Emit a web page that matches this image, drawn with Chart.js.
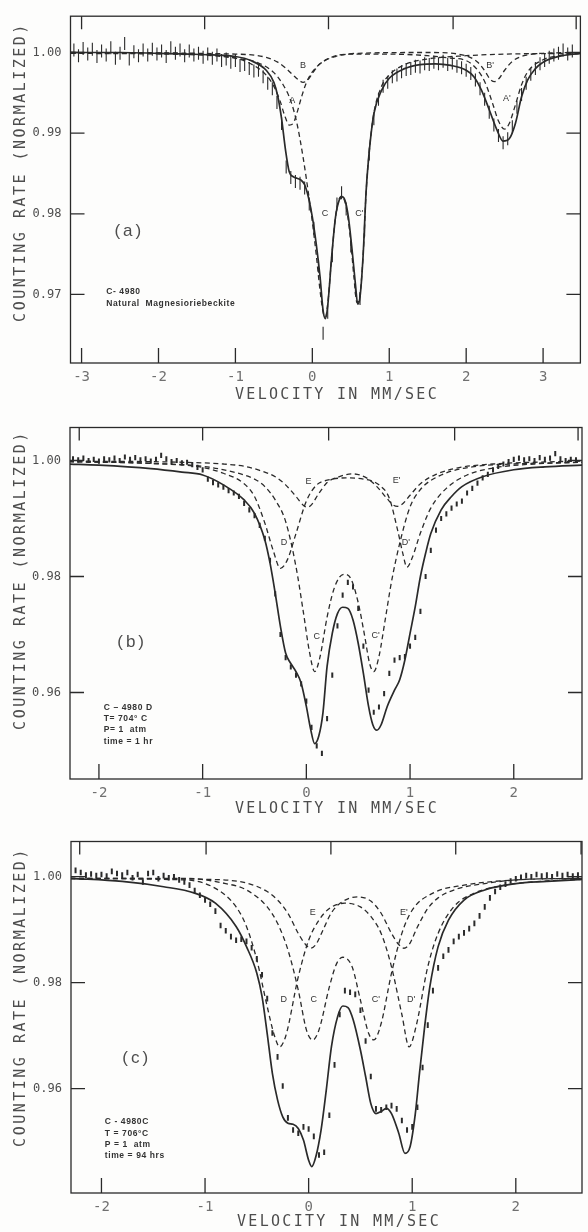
<!DOCTYPE html>
<html>
<head>
<meta charset="utf-8">
<script src="https://cdn.jsdelivr.net/npm/chart.js@4.4.1/dist/chart.umd.min.js"></script>
<style>
  html, body { margin: 0; padding: 0; background: #fdfdfc; }
  #sheet { position: relative; width: 588px; height: 1232px; overflow: hidden; }
  #sheet canvas { position: absolute; left: 0; }
</style>
</head>
<body>
<div id="sheet">
  <canvas id="panelA" width="588" height="410" style="top:0px"></canvas>
  <canvas id="panelB" width="588" height="410" style="top:410px"></canvas>
  <canvas id="panelC" width="588" height="412" style="top:820px"></canvas>
</div>
<script>
// ---------- axis text ----------
const Y_TITLE = 'COUNTING RATE (NORMALIZED)';
const X_TITLE = 'VELOCITY IN MM/SEC';

// ---------- tick values ----------
const X_TICKS_A = [-3, -2, -1, 0, 1, 2, 3];
const Y_TICKS_A = [1.00, 0.99, 0.98, 0.97];
const TOP_TICKS_A = [-3.0, -1.4, 0.21, 1.83, 3.43];
const X_TICKS_BC = [-2, -1, 0, 1, 2];
const Y_TICKS_BC = [1.00, 0.98, 0.96];
const TOP_TICKS_B = [-2.19, -1.0, 0.215, 1.43, 2.62];
const TOP_TICKS_C = [-2.21, -0.99, 0.215, 1.42, 2.63];

// ---------- (a) natural magnesioriebeckite ----------
const velA = [-3.10,-3.04,-2.98,-2.92,-2.86,-2.80,-2.74,-2.68,-2.62,-2.56,-2.50,-2.44,-2.38,-2.32,-2.26,-2.20,-2.14,-2.08,-2.02,-1.96,
  -1.90,-1.84,-1.78,-1.72,-1.66,-1.60,-1.54,-1.48,-1.42,-1.36,-1.30,-1.24,-1.18,-1.12,-1.06,-1.00,-0.94,-0.88,-0.82,-0.76,
  -0.70,-0.64,-0.58,-0.52,-0.46,-0.40,-0.34,-0.28,-0.22,-0.16,-0.10,-0.04,0.02,0.08,0.14,0.20,0.26,0.32,0.38,0.44,
  0.50,0.56,0.62,0.68,0.74,0.80,0.86,0.92,0.98,1.04,1.10,1.16,1.22,1.28,1.34,1.40,1.46,1.52,1.58,1.64,
  1.70,1.76,1.82,1.88,1.94,2.00,2.06,2.12,2.18,2.24,2.30,2.36,2.42,2.48,2.54,2.60,2.66,2.72,2.78,2.84,
  2.90,2.96,3.02,3.08,3.14,3.20,3.26,3.32,3.38];
const countsA = [1.0003,0.9996,1.0005,0.9998,1.0004,0.9995,1.0002,0.9997,1.0006,0.9993,0.9999,1.0011,0.9992,1.0001,0.9996,1.0003,0.9997,1.0004,0.9998,1.0002,
  0.9995,1.0006,0.9999,1.0003,0.9996,1.0002,0.9997,0.9999,0.9994,0.9998,0.9993,0.9997,0.9990,0.9992,0.9988,0.9990,0.9984,0.9985,0.9980,0.9977,
  0.9978,0.9970,0.9962,0.9955,0.9938,0.9912,0.9858,0.9845,0.9840,0.9838,0.9832,0.9812,0.9782,0.9735,0.9652,0.9678,0.9748,0.9812,0.9826,0.9806,
  0.9760,0.9708,0.9695,0.9780,0.9874,0.9918,0.9942,0.9958,0.9963,0.9970,0.9972,0.9976,0.9979,0.9980,0.9983,0.9982,0.9986,0.9985,0.9988,0.9986,
  0.9989,0.9985,0.9987,0.9983,0.9981,0.9978,0.9974,0.9966,0.9955,0.9942,0.9926,0.9910,0.9897,0.9888,0.9893,0.9908,0.9932,0.9948,0.9962,0.9973,
  0.9980,0.9986,0.9990,0.9994,0.9997,0.9999,1.0003,0.9998,1.0002];

const fitVelA = [-3.14,-2.5,-2.0,-1.6,-1.3,-1.0,-0.8,-0.6,-0.5,-0.45,-0.4,-0.35,-0.3,-0.25,-0.2,-0.15,-0.1,-0.05,0.0,0.05,
  0.1,0.14,0.17,0.2,0.25,0.3,0.35,0.39,0.43,0.47,0.52,0.56,0.59,0.62,0.66,0.7,0.75,0.8,0.9,1.0,
  1.2,1.4,1.6,1.8,2.0,2.1,2.2,2.3,2.4,2.48,2.56,2.64,2.72,2.8,2.9,3.0,3.2,3.49];
const fitA = [1.0000,1.0000,0.9999,0.9998,0.9997,0.9995,0.9990,0.9978,0.9963,0.9946,0.9918,0.9880,0.9852,0.9846,0.9844,0.9842,0.9836,0.9820,0.9796,0.9763,
  0.9722,0.9680,0.9670,0.9686,0.9745,0.9795,0.9817,0.9821,0.9815,0.9795,0.9752,0.9713,0.9688,0.9697,0.9748,0.9829,0.9887,0.9924,0.9953,0.9968,
  0.9980,0.9985,0.9986,0.9984,0.9978,0.9970,0.9953,0.9929,0.9904,0.9890,0.9893,0.9912,0.9945,0.9966,0.9980,0.9988,0.9995,0.9999];

const velSiteA = [-3.14,-1.5,-1.0,-0.8,-0.6,-0.5,-0.42,-0.36,-0.3,-0.25,-0.2,-0.14,-0.08,0.0,0.2,0.5,1.0,1.5,1.8,2.0,
  2.15,2.25,2.35,2.42,2.5,2.56,2.64,2.72,2.8,3.0,3.2,3.49];
const siteA = [1.0000,0.9998,0.9993,0.9986,0.9972,0.9958,0.9940,0.9922,0.9910,0.9912,0.9925,0.9945,0.9962,0.9976,0.9992,0.9998,0.9998,0.9996,0.9993,0.9990,
  0.9978,0.9962,0.9935,0.9915,0.9905,0.9912,0.9935,0.9960,0.9976,0.9991,0.9996,0.9999];

const velSiteB = [-3.14,-1.0,-0.6,-0.45,-0.35,-0.25,-0.18,-0.12,-0.06,0.0,0.1,0.3,0.6,1.5,1.9,2.05,2.15,2.25,2.31,2.37,
  2.43,2.5,2.6,2.75,3.0,3.49];
const siteB = [1.0000,0.9998,0.9994,0.9988,0.9981,0.9972,0.9966,0.9963,0.9966,0.9974,0.9986,0.9995,0.9999,1.0000,0.9998,0.9994,0.9988,0.9976,0.9967,0.9964,
  0.9968,0.9978,0.9989,0.9996,0.9999,1.0000];

const velSiteCa = [-3.14,-1.5,-1.0,-0.7,-0.5,-0.38,-0.28,-0.2,-0.12,-0.05,0.0,0.05,0.1,0.14,0.17,0.2,0.25,0.3,0.34,0.38,
  0.42,0.46,0.5,0.54,0.58,0.62,0.66,0.7,0.75,0.8,0.9,1.0,1.2,1.5,2.0,2.5,3.49];
const siteCa = [0.9999,0.9997,0.9993,0.9987,0.9975,0.9960,0.9940,0.9912,0.9870,0.9825,0.9790,0.9750,0.9705,0.9678,0.9672,0.9688,0.9745,0.9795,0.9816,0.9822,
  0.9816,0.9797,0.9765,0.9722,0.9690,0.9700,0.9748,0.9828,0.9887,0.9925,0.9958,0.9972,0.9985,0.9992,0.9996,0.9998,0.9999];

// ---------- (b) C-4980D, 704 C, 1 hr ----------
const velB = [-2.25,-2.20,-2.15,-2.10,-2.05,-2.00,-1.95,-1.90,-1.85,-1.80,-1.75,-1.70,-1.65,-1.60,-1.55,-1.50,-1.45,-1.40,-1.35,-1.30,
  -1.25,-1.20,-1.15,-1.10,-1.05,-1.00,-0.95,-0.90,-0.85,-0.80,-0.75,-0.70,-0.65,-0.60,-0.55,-0.50,-0.45,-0.40,-0.35,-0.30,
  -0.25,-0.20,-0.15,-0.10,-0.05,0.00,0.05,0.10,0.15,0.20,0.25,0.30,0.35,0.40,0.45,0.50,0.55,0.60,0.65,0.70,
  0.75,0.80,0.85,0.90,0.95,1.00,1.05,1.10,1.15,1.20,1.25,1.30,1.35,1.40,1.45,1.50,1.55,1.60,1.65,1.70,
  1.75,1.80,1.85,1.90,1.95,2.00,2.05,2.10,2.15,2.20,2.25,2.30,2.35,2.40,2.45,2.50,2.55,2.60];
const countsB = [1.0003,1.0001,1.0004,1.0000,1.0002,0.9999,1.0003,1.0001,1.0004,1.0000,1.0006,1.0002,1.0005,1.0001,1.0003,0.9999,1.0002,1.0009,1.0003,0.9998,
  1.0000,0.9996,0.9997,0.9993,0.9988,0.9984,0.9968,0.9962,0.9958,0.9954,0.9948,0.9944,0.9938,0.9926,0.9915,0.9905,0.9888,0.9866,0.9828,0.9770,
  0.9700,0.9660,0.9644,0.9630,0.9615,0.9585,0.9540,0.9508,0.9495,0.9555,0.9630,0.9715,0.9768,0.9790,0.9782,0.9745,0.9680,0.9604,0.9566,0.9575,
  0.9598,0.9633,0.9656,0.9660,0.9662,0.9680,0.9695,0.9740,0.9800,0.9845,0.9880,0.9900,0.9908,0.9918,0.9925,0.9930,0.9944,0.9952,0.9961,0.9970,
  0.9976,0.9984,0.9990,0.9994,0.9998,1.0002,1.0004,1.0001,1.0003,1.0000,1.0005,1.0002,1.0004,1.0012,1.0003,1.0000,1.0002,1.0001];

const fitVelB = [-2.29,-2.0,-1.5,-1.2,-1.0,-0.8,-0.6,-0.5,-0.4,-0.35,-0.3,-0.25,-0.2,-0.15,-0.1,-0.05,0.0,0.04,0.08,0.12,
  0.16,0.2,0.25,0.3,0.35,0.4,0.45,0.5,0.55,0.6,0.64,0.68,0.72,0.78,0.85,0.9,0.95,1.0,1.05,1.1,
  1.15,1.2,1.3,1.4,1.5,1.7,2.0,2.3,2.67];
const fitB = [0.9994,0.9992,0.9986,0.9980,0.9975,0.9958,0.9932,0.9909,0.9863,0.9823,0.9771,0.9714,0.9668,0.9650,0.9636,0.9616,0.9576,0.9538,0.9512,0.9525,
  0.9565,0.9645,0.9702,0.9736,0.9747,0.9745,0.9725,0.9685,0.9633,0.9576,0.9545,0.9535,0.9544,0.9576,0.9604,0.9622,0.9656,0.9702,0.9748,0.9800,
  0.9840,0.9874,0.9915,0.9938,0.9955,0.9972,0.9984,0.9989,0.9992];

const velSiteEb = [-2.29,-1.2,-0.8,-0.6,-0.45,-0.3,-0.2,-0.1,-0.03,0.0,0.04,0.12,0.2,0.3,0.44,0.58,0.68,0.78,0.84,0.88,
  0.92,1.0,1.1,1.25,1.45,1.8,2.2,2.67];
const siteEb = [0.9999,0.9997,0.9994,0.9990,0.9983,0.9972,0.9958,0.9938,0.9923,0.9920,0.9922,0.9943,0.9962,0.9971,0.9977,0.9970,0.9955,0.9934,0.9923,0.9921,
  0.9924,0.9940,0.9960,0.9976,0.9987,0.9994,0.9997,0.9999];

const velSiteDb = [-2.29,-1.5,-1.0,-0.8,-0.6,-0.5,-0.4,-0.32,-0.25,-0.18,-0.1,0.0,0.1,0.2,0.38,0.55,0.7,0.8,0.88,0.93,
  0.97,1.02,1.1,1.2,1.35,1.55,1.8,2.2,2.67];
const siteDb = [0.9998,0.9995,0.9988,0.9978,0.9960,0.9938,0.9892,0.9845,0.9814,0.9830,0.9874,0.9930,0.9958,0.9966,0.9970,0.9968,0.9958,0.9935,0.9880,0.9840,
  0.9816,0.9832,0.9875,0.9918,0.9952,0.9975,0.9987,0.9994,0.9997];

const velSiteCb = [-2.29,-1.5,-1.0,-0.7,-0.5,-0.4,-0.3,-0.2,-0.1,-0.03,0.03,0.08,0.13,0.2,0.26,0.32,0.37,0.43,0.5,0.56,
  0.61,0.65,0.7,0.76,0.82,0.9,1.0,1.1,1.3,1.6,2.0,2.67];
const siteCb = [0.9998,0.9995,0.9990,0.9980,0.9968,0.9955,0.9932,0.9895,0.9817,0.9740,0.9670,0.9636,0.9660,0.9730,0.9775,0.9799,0.9804,0.9796,0.9755,0.9700,
  0.9650,0.9636,0.9662,0.9725,0.9790,0.9857,0.9920,0.9950,0.9975,0.9989,0.9994,0.9997];

// ---------- (c) C-4980C, 706 C, 94 hrs ----------
const velC = velB.slice();
const countsC = [1.0012,1.0008,1.0003,1.0005,1.0002,1.0004,1.0001,1.0010,1.0006,1.0003,1.0008,0.9998,1.0004,0.9990,1.0006,1.0008,0.9996,1.0002,0.9998,1.0000,
  0.9994,0.9990,0.9984,0.9974,0.9965,0.9956,0.9948,0.9935,0.9908,0.9898,0.9887,0.9880,0.9882,0.9878,0.9866,0.9845,0.9815,0.9770,0.9705,0.9660,
  0.9605,0.9545,0.9522,0.9516,0.9528,0.9524,0.9510,0.9475,0.9480,0.9550,0.9645,0.9740,0.9785,0.9782,0.9778,0.9748,0.9690,0.9623,0.9562,0.9560,
  0.9565,0.9568,0.9562,0.9540,0.9522,0.9528,0.9565,0.9640,0.9720,0.9785,0.9828,0.9850,0.9862,0.9878,0.9887,0.9894,0.9902,0.9912,0.9926,0.9943,
  0.9960,0.9972,0.9980,0.9986,0.9992,0.9996,0.9999,1.0002,1.0000,1.0004,1.0001,1.0003,1.0000,1.0005,1.0002,1.0004,1.0001,1.0003];

const fitVelC = [-2.3,-1.8,-1.4,-1.1,-0.9,-0.7,-0.6,-0.5,-0.45,-0.4,-0.35,-0.3,-0.25,-0.2,-0.15,-0.1,-0.05,0.0,0.03,0.07,
  0.12,0.17,0.22,0.28,0.33,0.38,0.43,0.5,0.55,0.6,0.65,0.7,0.75,0.8,0.87,0.93,0.98,1.03,1.07,1.12,
  1.17,1.25,1.35,1.5,1.7,2.0,2.3,2.64];
const fitC = [0.9997,0.9991,0.9981,0.9969,0.9950,0.9906,0.9868,0.9818,0.9774,0.9704,0.9629,0.9579,0.9547,0.9535,0.9533,0.9525,0.9503,0.9465,0.9453,0.9472,
  0.9522,0.9597,0.9679,0.9736,0.9756,0.9753,0.9730,0.9673,0.9623,0.9572,0.9553,0.9557,0.9563,0.9553,0.9516,0.9478,0.9491,0.9553,0.9629,0.9717,
  0.9792,0.9868,0.9918,0.9956,0.9975,0.9987,0.9991,0.9995];

const velSiteEc = [-2.3,-1.0,-0.6,-0.4,-0.3,-0.2,-0.1,-0.03,0.02,0.07,0.14,0.22,0.32,0.47,0.6,0.7,0.8,0.87,0.92,0.97,
  1.05,1.15,1.25,1.45,1.7,2.0,2.64];
const siteEc = [0.9997,0.9995,0.9988,0.9972,0.9956,0.9931,0.9893,0.9872,0.9865,0.9872,0.9900,0.9932,0.9952,0.9962,0.9954,0.9931,0.9893,0.9872,0.9865,0.9872,
  0.9905,0.9940,0.9960,0.9978,0.9987,0.9994,0.9997];

const velSiteDc = [-2.3,-1.2,-0.9,-0.7,-0.6,-0.5,-0.4,-0.33,-0.28,-0.22,-0.1,0.0,0.1,0.2,0.35,0.5,0.6,0.7,0.8,0.9,
  0.97,1.04,1.15,1.25,1.4,1.6,1.9,2.3,2.64];
const siteDc = [0.9996,0.9994,0.9978,0.9943,0.9906,0.9843,0.9755,0.9700,0.9679,0.9700,0.9811,0.9880,0.9918,0.9940,0.9950,0.9943,0.9925,0.9893,0.9830,0.9740,
  0.9679,0.9720,0.9830,0.9893,0.9943,0.9969,0.9984,0.9992,0.9995];

const velSiteCc = [-2.3,-1.2,-0.8,-0.6,-0.4,-0.3,-0.2,-0.1,-0.02,0.04,0.1,0.2,0.27,0.33,0.42,0.5,0.58,0.63,0.7,0.8,
  0.9,1.0,1.2,1.5,2.0,2.64];
const siteCc = [0.9997,0.9997,0.9987,0.9975,0.9943,0.9912,0.9862,0.9786,0.9710,0.9692,0.9711,0.9792,0.9836,0.9848,0.9830,0.9767,0.9704,0.9692,0.9723,0.9818,
  0.9893,0.9937,0.9969,0.9984,0.9994,0.9997];

// ---------- drawing ----------
const INK = '#2a2a2a';
const TEXT = '#4d4d4d';
const MONO = '"DejaVu Sans Mono", "Liberation Mono", monospace';
const SANS = '"Liberation Sans", "DejaVu Sans", sans-serif';

const pairs = (xs, ys) => xs.map((v, i) => ({ x: v, y: ys[i] }));

function fitLine(xs, ys, dashed) {
  return {
    data: pairs(xs, ys),
    showLine: true,
    pointRadius: 0,
    borderColor: INK,
    borderWidth: dashed ? 1.3 : 1.7,
    borderDash: dashed ? [5, 3.5] : [],
    cubicInterpolationMode: 'monotone',
    fill: false
  };
}

function countMarks(xs, ys, len, width) {
  return {
    data: pairs(xs, ys),
    showLine: false,
    pointStyle: 'line',
    rotation: 90,
    pointRadius: len,
    pointBorderWidth: width,
    pointBorderColor: INK,
    pointBackgroundColor: INK
  };
}

// closed frame with short inward ticks on all four sides
const frameTicks = {
  id: 'frameTicks',
  afterDatasetsDraw(chart, args, o) {
    const { ctx, chartArea: a, scales: { x, y } } = chart;
    ctx.save();
    ctx.strokeStyle = INK;
    ctx.lineWidth = 1.3;
    ctx.strokeRect(a.left, a.top, a.right - a.left, a.bottom - a.top);
    ctx.beginPath();
    x.ticks.forEach(t => {
      const px = x.getPixelForValue(t.value);
      ctx.moveTo(px, a.bottom); ctx.lineTo(px, a.bottom - 15);
    });
    o.top.forEach(v => {
      const px = x.getPixelForValue(v);
      ctx.moveTo(px, a.top); ctx.lineTo(px, a.top + 13);
    });
    y.ticks.forEach(t => {
      const py = y.getPixelForValue(t.value);
      ctx.moveTo(a.left, py); ctx.lineTo(a.left + 14, py);
      ctx.moveTo(a.right, py); ctx.lineTo(a.right - 14, py);
    });
    ctx.stroke();
    ctx.restore();
  }
};

// axis titles, panel letter, sample notes and component letters
const captions = {
  id: 'captions',
  afterDraw(chart, args, o) {
    const { ctx, scales: { x, y } } = chart;
    ctx.save();
    ctx.fillStyle = TEXT;
    ctx.textBaseline = 'middle';
    ctx.textAlign = 'center';
    ctx.font = '15px ' + MONO;
    ctx.letterSpacing = '2.5px';
    ctx.save();
    ctx.translate(o.yTitle[0], o.yTitle[1]);
    ctx.rotate(-Math.PI / 2);
    ctx.fillText(Y_TITLE, 0, 0);
    ctx.restore();
    ctx.letterSpacing = '2.3px';
    ctx.fillText(X_TITLE, o.xTitle[0], o.xTitle[1]);

    ctx.font = '17px ' + SANS;
    ctx.letterSpacing = '3px';
    ctx.fillText(o.panel.text, x.getPixelForValue(o.panel.x), y.getPixelForValue(o.panel.y));

    ctx.fillStyle = '#333';
    ctx.font = '600 8.5px ' + SANS;
    ctx.letterSpacing = '0.6px';
    ctx.textAlign = 'left';
    o.notes.lines.forEach((line, i) => {
      ctx.fillText(line, x.getPixelForValue(o.notes.x), y.getPixelForValue(o.notes.y[i]));
    });

    ctx.font = '9px ' + SANS;
    ctx.letterSpacing = '0px';
    ctx.textAlign = 'center';
    o.letters.forEach(m => {
      ctx.fillText(m[0], x.getPixelForValue(m[1]), y.getPixelForValue(m[2]));
    });
    ctx.restore();
  }
};

function makePanel(id, p) {
  return new Chart(document.getElementById(id), {
    type: 'scatter',
    data: { datasets: p.datasets },
    plugins: [frameTicks, captions],
    options: {
      responsive: false,
      animation: false,
      events: [],
      layout: { padding: { left: 0, right: 2, top: p.areaTop, bottom: 0 } },
      plugins: {
        legend: { display: false },
        tooltip: { enabled: false },
        frameTicks: { top: p.topTicks },
        captions: p.captions
      },
      scales: {
        x: {
          type: 'linear',
          min: p.xMin, max: p.xMax,
          afterBuildTicks: s => { s.ticks = p.xTicks.map(v => ({ value: v })); },
          afterFit: s => { s.height = p.xAxisHeight; },
          grid: { display: false, drawTicks: false },
          border: { display: false },
          ticks: {
            padding: 6,
            color: '#707070',
            font: { family: MONO, size: 14 },
            maxRotation: 0,
            autoSkip: false,
            callback: v => String(v)
          }
        },
        y: {
          type: 'linear',
          min: p.yMin, max: p.yMax,
          afterBuildTicks: s => { s.ticks = p.yTicks.map(v => ({ value: v })); },
          afterFit: s => { s.width = p.yAxisWidth; },
          grid: { display: false, drawTicks: false },
          border: { display: false },
          ticks: {
            padding: 9,
            color: TEXT,
            font: { family: MONO, size: 12 },
            callback: v => Number(v).toFixed(2)
          }
        }
      }
    }
  });
}

makePanel('panelA', {
  xMin: -3.144, xMax: 3.485, yMin: 0.9615, yMax: 1.0045,
  xTicks: X_TICKS_A, yTicks: Y_TICKS_A, topTicks: TOP_TICKS_A,
  areaTop: 12.7, xAxisHeight: 47, yAxisWidth: 70.5,
  datasets: [
    countMarks(velA, countsA, 6.5, 1.1),
    fitLine(fitVelA, fitA, false),
    fitLine(velSiteA, siteA, true),
    fitLine(velSiteB, siteB, true),
    fitLine(velSiteCa, siteCa, true)
  ],
  captions: {
    yTitle: [21, 172], xTitle: [337, 395],
    panel: { text: '(a)', x: -2.38, y: 0.9778 },
    notes: { x: -2.68, y: [0.9703, 0.9688], lines: ['C- 4980', 'Natural  Magnesioriebeckite'] },
    letters: [['B', -0.12, 0.9984], ['A', -0.26, 0.9941], ['C', 0.165, 0.9800], ["C'", 0.61, 0.9800],
              ["B'", 2.31, 0.9984], ["A'", 2.53, 0.9943]]
  }
});

makePanel('panelB', {
  xMin: -2.279, xMax: 2.658, yMin: 0.94509, yMax: 1.00569,
  xTicks: X_TICKS_BC, yTicks: Y_TICKS_BC, topTicks: TOP_TICKS_B,
  areaTop: 17.5, xAxisHeight: 41, yAxisWidth: 70,
  datasets: [
    countMarks(velB, countsB, 2.6, 2),
    fitLine(fitVelB, fitB, false),
    fitLine(velSiteEb, siteEb, true),
    fitLine(velSiteDb, siteDb, true),
    fitLine(velSiteCb, siteCb, true)
  ],
  captions: {
    yTitle: [21, 170], xTitle: [337, 399],
    panel: { text: '(b)', x: -1.68, y: 0.9687 },
    notes: { x: -1.954, y: [0.95733, 0.95543, 0.95353, 0.95147], lines: ['C \u2013 4980 D', 'T= 704\u00b0 C', 'P= 1  atm', 'time = 1 hr'] },
    letters: [['E', 0.02, 0.9963], ["E'", 0.87, 0.9965], ['D', -0.215, 0.9858], ["D'", 0.96, 0.9859],
              ['C', 0.10, 0.9697], ["C'", 0.668, 0.9699]]
  }
});

makePanel('panelC', {
  xMin: -2.294, xMax: 2.639, yMin: 0.94032, yMax: 1.00664,
  xTicks: X_TICKS_BC, yTicks: Y_TICKS_BC, topTicks: TOP_TICKS_C,
  areaTop: 21.5, xAxisHeight: 39, yAxisWidth: 71,
  datasets: [
    countMarks(velC, countsC, 2.8, 2),
    fitLine(fitVelC, fitC, false),
    fitLine(velSiteEc, siteEc, true),
    fitLine(velSiteDc, siteDc, true),
    fitLine(velSiteCc, siteCc, true)
  ],
  captions: {
    yTitle: [21, 177], xTitle: [339, 402],
    panel: { text: '(c)', x: -1.66, y: 0.9658 },
    notes: { x: -1.968, y: [0.9537, 0.9516, 0.9495, 0.9473], lines: ['C - 4980C', 'T = 706\u00b0C', 'P = 1  atm', 'time = 94 hrs'] },
    letters: [['E', 0.04, 0.99315], ["E'", 0.92, 0.99315], ['D', -0.24, 0.9769], ['C', 0.05, 0.9769],
              ["C'", 0.65, 0.9769], ["D'", 0.99, 0.9769]]
  }
});
</script>
</body>
</html>
